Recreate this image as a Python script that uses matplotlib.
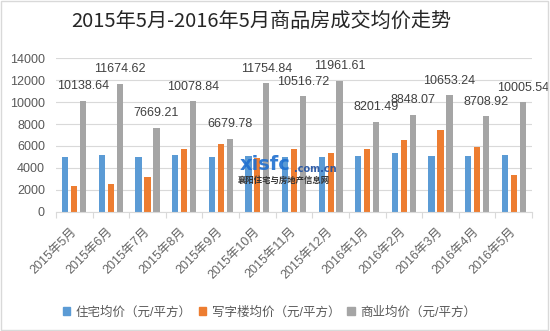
import matplotlib.pyplot as plt
import matplotlib.patches as mpatches
import numpy as np

plt.rcParams['font.family'] = ['Liberation Sans', 'Noto Sans CJK SC']

months = ['2015年5月', '2015年6月', '2015年7月', '2015年8月', '2015年9月', '2015年10月',
          '2015年11月', '2015年12月', '2016年1月', '2016年2月', '2016年3月', '2016年4月', '2016年5月']
residential = [4950, 5150, 5030, 5130, 5030, 5050, 5030, 5030, 5120, 5330, 5120, 5120, 5210]
office = [2330, 2550, 3180, 5760, 6180, 4900, 5760, 5330, 5760, 6510, 7420, 5940, 3360]
commercial = [10138.64, 11674.62, 7669.21, 10078.84, 6679.78, 11754.84, 10516.72,
              11961.61, 8201.49, 8848.07, 10653.24, 8708.92, 10005.54]
series_names = ['住宅均价（元/平方）', '写字楼均价（元/平方）', '商业均价（元/平方）']
colors = ['#5B9BD5', '#ED7D31', '#A5A5A5']

fig = plt.figure(figsize=(5.5, 3.31), dpi=100)
ax = fig.add_axes([0.1018, 0.3604, 0.8655, 0.4635])

x = np.arange(len(months))
w = 0.17
off = 0.245
ax.bar(x - off, residential, w, color=colors[0], label=series_names[0], zorder=2)
ax.bar(x, office, w, color=colors[1], label=series_names[1], zorder=2)
bars = ax.bar(x + off, commercial, w, color=colors[2], label=series_names[2], zorder=2)

for b, v in zip(bars, commercial):
    ax.annotate(f'{v:.2f}', xy=(b.get_x() + b.get_width() / 2, v), xytext=(0, 6),
                textcoords='offset points', ha='center', va='bottom',
                fontsize=9, color='#404040', zorder=4)

ax.set_xlim(-0.5, len(months) - 0.5)
ax.set_ylim(0, 14000)
ax.set_yticks(range(0, 14001, 2000))
ax.tick_params(axis='y', length=0, pad=8, labelsize=9, labelcolor='#595959')
ax.yaxis.grid(True, color='#D9D9D9', linewidth=0.8, zorder=0)
ax.set_axisbelow(True)

ax.set_xticks(x)
ax.set_xticklabels(months, rotation=45, ha='right', rotation_mode='anchor', va='center',
                   fontsize=9, color='#666666')
ax.tick_params(axis='x', which='major', length=0, pad=13)
ax.set_xticks(np.arange(-0.5, len(months)), minor=True)
ax.tick_params(axis='x', which='minor', length=4, color='#D9D9D9', width=0.8)

for s in ['top', 'right', 'left']:
    ax.spines[s].set_visible(False)
ax.spines['bottom'].set_color('#D9D9D9')

fig.text(0.475, 0.937, '2015年5月-2016年5月商品房成交均价走势', ha='center', va='center',
         fontsize=14.5, color='#262626', family=['Noto Sans CJK SC'])

# site watermark
fig.text(0.435, 0.503, 'xisfc', fontsize=14, fontweight='bold', color='#1E6FD0',
         ha='left', va='center', alpha=0.9, family=['DejaVu Sans'])
fig.text(0.535, 0.49, '.com.cn', fontsize=7, fontweight='bold', color='#1E4FA0',
         ha='left', va='center', alpha=0.9, family=['DejaVu Sans'])
fig.text(0.433, 0.455, '襄阳住宅与房地产信息网', fontsize=6, fontweight='bold', color='#333333',
         ha='left', va='center', family=['Noto Sans CJK SC'])

handles = [mpatches.Patch(color=c) for c in colors]
fig.legend(handles, series_names, loc='center', bbox_to_anchor=(0.49, 0.057), ncol=3,
           frameon=False, fontsize=9, handlelength=0.6, handleheight=0.6,
           handletextpad=0.45, columnspacing=0.55, labelcolor='#595959')

fig.patches.append(mpatches.Rectangle((0.002, 0.003), 0.995, 0.994, transform=fig.transFigure,
                                      fill=False, edgecolor='#D9D9D9', linewidth=1))

fig.savefig('out.png', dpi=100)
